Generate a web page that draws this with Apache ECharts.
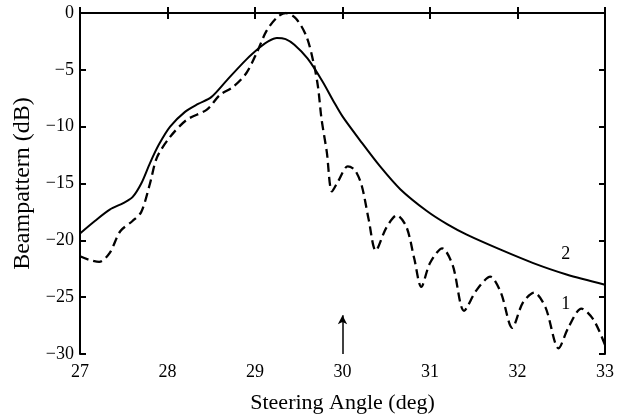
<!DOCTYPE html>
<html><head><meta charset="utf-8">
<script src="https://cdn.jsdelivr.net/npm/echarts@6/dist/echarts.min.js"></script>
<style>html,body{margin:0;padding:0;background:#fff}#c{width:626px;height:420px}</style>
</head><body><div id="c"></div>
<script>
const xTicks = [27, 28, 29, 30, 31, 32, 33];
const yTicks = [0, -5, -10, -15, -20, -25, -30];
const curve2 = [[27,-19.4],[27.17,-18.3],[27.34,-17.3],[27.5,-16.7],[27.6,-16.2],[27.7,-15.0],[27.8,-13.2],[27.9,-11.6],[28.03,-10.0],[28.2,-8.7],[28.35,-8.0],[28.5,-7.4],[28.68,-5.9],[28.9,-4.1],[29.06,-3.0],[29.15,-2.5],[29.25,-2.2],[29.35,-2.3],[29.45,-2.8],[29.6,-4.0],[29.77,-6.0],[29.9,-7.8],[30.0,-9.1],[30.2,-11.2],[30.43,-13.5],[30.66,-15.5],[30.96,-17.4],[31.2,-18.6],[31.42,-19.5],[31.8,-20.8],[32.18,-22.0],[32.56,-23.0],[33,-23.9]];
const curve1 = [[27,-21.4],[27.1,-21.7],[27.22,-21.9],[27.34,-21.1],[27.46,-19.2],[27.6,-18.3],[27.7,-17.5],[27.8,-15.0],[27.88,-12.7],[28.03,-10.9],[28.22,-9.4],[28.45,-8.5],[28.6,-7.2],[28.75,-6.5],[28.9,-5.3],[29.02,-3.5],[29.13,-1.6],[29.25,-0.4],[29.35,0],[29.47,-0.5],[29.59,-2.1],[29.67,-4.4],[29.72,-6.5],[29.76,-9.3],[29.82,-12.2],[29.88,-15.7],[29.95,-14.8],[30.06,-13.5],[30.14,-13.8],[30.22,-15.2],[30.3,-18.2],[30.38,-20.9],[30.5,-18.9],[30.62,-17.8],[30.73,-18.8],[30.82,-21.6],[30.9,-24.1],[31.0,-22.0],[31.14,-20.7],[31.26,-22.2],[31.39,-26.2],[31.53,-24.4],[31.69,-23.2],[31.81,-24.6],[31.94,-27.7],[32.06,-25.5],[32.19,-24.6],[32.32,-25.9],[32.47,-29.5],[32.58,-27.7],[32.73,-26.0],[32.87,-27.0],[33,-29.2]];
const curveLabels = [{name:'1', x:32.55, y:-25.6}, {name:'2', x:32.55, y:-21.2}];
const arrowStart = [30, -30];
const arrowEnd = [30, -26.6];
const xName = 'Steering Angle (deg)';
const yName = 'Beampattern (dB)';

const font = 'Liberation Serif';
const fmt = v => String(v).replace('-', '\u2212');
const chart = echarts.init(document.getElementById('c'));
const axisLine = {show:true, lineStyle:{color:'#000', width:2}};
const tick = {show:true, inside:true, length:6, lineStyle:{color:'#000', width:2}};
chart.setOption({
  animation:false,
  backgroundColor:'#fff',
  grid:{left:80, right:21, top:13, bottom:66},
  xAxis:[
    {type:'value', min:27, max:33, interval:1, position:'bottom',
     axisLine, axisTick:tick, splitLine:{show:false},
     axisLabel:{color:'#000', fontFamily:font, fontSize:18, margin:9, formatter:fmt},
     name:xName, nameLocation:'middle', nameGap:38,
     nameTextStyle:{color:'#000', fontFamily:font, fontSize:22}},
    {type:'value', min:27, max:33, interval:1, position:'top',
     axisLine, axisTick:tick, axisLabel:{show:false}, splitLine:{show:false}}
  ],
  yAxis:[
    {type:'value', min:-30, max:0, interval:5, position:'left',
     axisLine, axisTick:tick, splitLine:{show:false},
     axisLabel:{color:'#000', fontFamily:font, fontSize:18, margin:6, formatter:fmt},
     name:yName, nameLocation:'middle', nameGap:42,
     nameTextStyle:{color:'#000', fontFamily:font, fontSize:24}},
    {type:'value', min:-30, max:0, interval:5, position:'right',
     axisLine, axisTick:tick, axisLabel:{show:false}, splitLine:{show:false}}
  ],
  series:[
    {type:'line', data:curve2, smooth:0.3, symbol:'none',
     lineStyle:{color:'#000', width:2},
     markPoint:{symbol:'circle', symbolSize:0, data:[{coord:[curveLabels[1].x, curveLabels[1].y], value:curveLabels[1].name}],
       label:{show:true, color:'#000', fontFamily:font, fontSize:18, formatter:p=>p.value}},
     markLine:{silent:true, symbol:['none','arrow'], symbolSize:[7,9],
       lineStyle:{color:'#000', width:1.5, type:'solid'}, label:{show:false},
       data:[[{coord:arrowStart},{coord:arrowEnd}]]}},
    {type:'line', data:curve1, smooth:0.3, symbol:'none',
     lineStyle:{color:'#000', width:2.3, type:[9,5]},
     markPoint:{symbol:'circle', symbolSize:0, data:[{coord:[curveLabels[0].x, curveLabels[0].y], value:curveLabels[0].name}],
       label:{show:true, color:'#000', fontFamily:font, fontSize:18, formatter:p=>p.value}}}
  ]
});
</script></body></html>
